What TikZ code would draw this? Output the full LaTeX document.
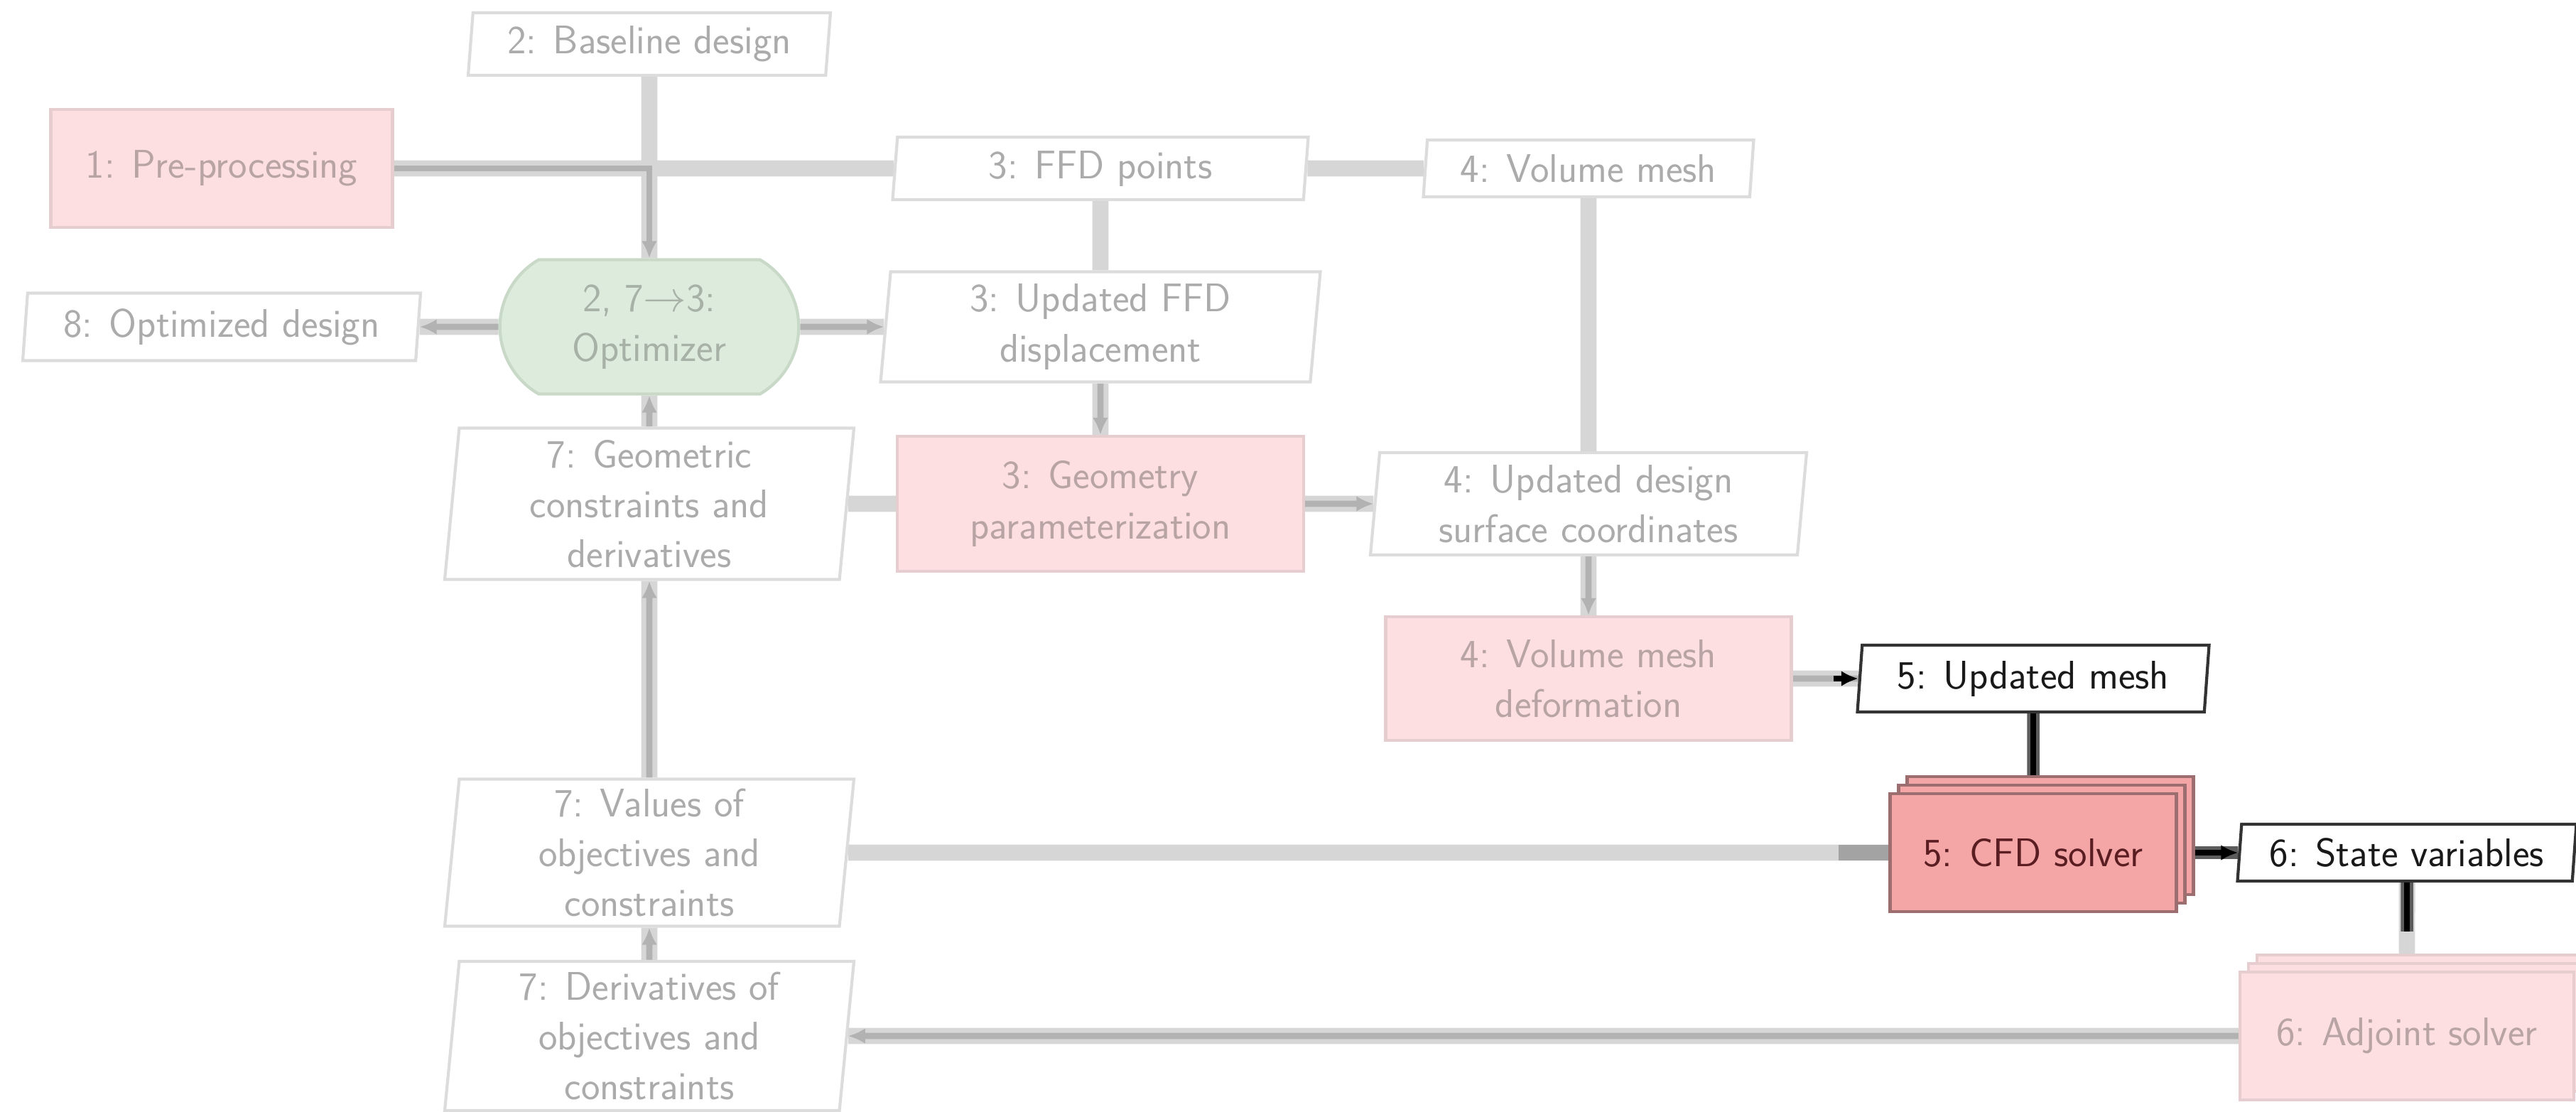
\documentclass[tikz,border=0pt]{standalone}
\usepackage{fontspec}
\usetikzlibrary{shapes.geometric,shapes.misc,arrows.meta,shadows,backgrounds,calc}

% palette
\definecolor{lineF}{HTML}{D6D6D6}
\definecolor{procF}{HTML}{B2B2B2}
\definecolor{lineA}{HTML}{5C5C5C}
\definecolor{txtF}{HTML}{ABABAB}
\definecolor{paraF}{HTML}{DCDCDC}
\definecolor{pinkFill}{HTML}{FDDFE1}
\definecolor{pinkDraw}{HTML}{E6CDCF}
\definecolor{pinkTxt}{HTML}{B8A3A5}
\definecolor{greenFill}{HTML}{DDEBDC}
\definecolor{greenDraw}{HTML}{C9D9C8}
\definecolor{greenTxt}{HTML}{A7B1A6}
\definecolor{cfdFill}{HTML}{F4A6A7}
\definecolor{cfdDraw}{HTML}{9C6E70}
\definecolor{cfdTxt}{HTML}{5A1E22}

\tikzset{
  para/.style={trapezium, trapezium left angle=84, trapezium right angle=96,
    trapezium stretches body=true, align=center, inner sep=2pt,
    line width=1.2pt, fill=white},
  paraF/.style={para, draw=paraF, text=txtF},
  paraA/.style={para, draw=black!80, text=black!90},
  procbox/.style={rectangle, align=center, line width=1.2pt,
    fill=pinkFill, draw=pinkDraw, text=pinkTxt},
  optbox/.style={rounded rectangle, rounded rectangle arc length=120,
    align=center, line width=1.2pt, fill=greenFill, draw=greenDraw, text=greenTxt},
  stackF/.style={procbox, double copy shadow={shadow xshift=0.12cm, shadow yshift=0.12cm,
    fill=pinkFill, draw=pinkDraw, line width=1.2pt}},
  stackA/.style={rectangle, align=center, line width=1.2pt, fill=cfdFill, draw=cfdDraw, text=cfdTxt,
    double copy shadow={shadow xshift=0.12cm, shadow yshift=0.12cm,
    fill=cfdFill, draw=cfdDraw, line width=1.2pt}},
  dataF/.style={draw=lineF, line width=6.5pt},
  dataA/.style={draw=lineA, line width=5pt},
  procLine/.style={draw=procF, line width=2.5pt},
  procArrow/.style={procLine, -{Latex[length=0.24cm,width=0.22cm]}},
  actLine/.style={draw=black, line width=2.2pt},
  actArrow/.style={actLine, -{Latex[length=0.24cm,width=0.22cm]}}
}

\begin{document}
\begin{tikzpicture}[font=\sffamily\fontsize{16}{20}\selectfont]
\useasboundingbox (0,0) rectangle (36.26,-15.64);

% column 0
\node[procbox, minimum width=4.81cm, minimum height=1.66cm] (pre) at (3.12,-2.37) {1: Pre-processing};
\node[paraF, minimum width=5.60cm, minimum height=0.95cm] (optd) at (3.12,-4.60) {8: Optimized design};

% column 1 (optimizer)
\node[paraF, minimum width=5.10cm, minimum height=0.88cm] (base) at (9.14,-0.62) {2: Baseline design};
\node[optbox, minimum width=4.44cm, minimum height=1.89cm] (opt) at (9.14,-4.60) {2, 7$\to$3:\\Optimizer};
\node[paraF, minimum width=5.76cm, minimum height=2.13cm] (gcon) at (9.14,-7.09) {7: Geometric\\constraints and\\derivatives};
\node[paraF, minimum width=5.76cm, minimum height=2.07cm] (vals) at (9.14,-12.00) {7: Values of\\objectives and\\constraints};
\node[paraF, minimum width=5.76cm, minimum height=2.10cm] (deriv) at (9.14,-14.58) {7: Derivatives of\\objectives and\\constraints};

% column 2 (geometry)
\node[paraF, minimum width=5.85cm, minimum height=0.88cm] (ffd) at (15.49,-2.37) {3: FFD points};
\node[paraF, minimum width=6.19cm, minimum height=1.55cm] (uffd) at (15.49,-4.60) {3: Updated FFD\\displacement};
\node[procbox, minimum width=5.72cm, minimum height=1.90cm] (geo) at (15.49,-7.09) {3: Geometry\\parameterization};

% column 3 (mesh)
\node[paraF, minimum width=4.65cm, minimum height=0.80cm] (vmesh) at (22.36,-2.37) {4: Volume mesh};
\node[paraF, minimum width=6.14cm, minimum height=1.44cm] (usurf) at (22.36,-7.09) {4: Updated design\\surface coordinates};
\node[procbox, minimum width=5.71cm, minimum height=1.74cm] (vmd) at (22.36,-9.55) {4: Volume mesh\\deformation};

% column 4 (flow solver)
\node[paraA, minimum width=4.95cm, minimum height=0.94cm] (umesh) at (28.62,-9.55) {5: Updated mesh};
\node[stackA, minimum width=4.03cm, minimum height=1.66cm] (cfd) at (28.62,-12.00) {5: CFD solver};

% column 5 (adjoint)
\node[paraA, minimum width=4.77cm, minimum height=0.80cm] (state) at (33.88,-12.00) {6: State variables};
\node[stackF, minimum width=4.70cm, minimum height=1.80cm] (adj) at (33.88,-14.58) {6: Adjoint solver};

\begin{pgfonlayer}{background}
  % data connections
  \draw[dataF] (pre.east) -- (ffd.west);
  \draw[dataF] (ffd.east) -- (vmesh.west);
  \draw[dataF] (base.south) -- (opt.north);
  \draw[dataF] (opt.west) -- (optd.east);
  \draw[dataF] (opt.east) -- (uffd.west);
  \draw[dataF] (ffd.south) -- (uffd.north);
  \draw[dataF] (uffd.south) -- (geo.north);
  \draw[dataF] (vmesh.south) -- (usurf.north);
  \draw[dataF] (usurf.south) -- (vmd.north);
  \draw[dataF] (gcon.east) -- (geo.west);
  \draw[dataF] (geo.east) -- (usurf.west);
  \draw[dataF] (vmd.east) -- (umesh.west);
  \draw[dataF] (vals.east) -- (cfd.west);
  \draw[dataF, draw=black!36] ($(cfd.west)+(-0.7,0)$) -- (cfd.west);
  \draw[dataF] (deriv.east) -- (adj.west);
  \draw[dataF] (opt.south) -- (gcon.north);
  \draw[dataF] (gcon.south) -- (vals.north);
  \draw[dataF] (vals.south) -- (deriv.north);
  \draw[dataA] (umesh.south) -- (cfd.north);
  \draw[dataA] (cfd.east) -- (state.west);
  \draw[dataF] (state.south) -- (adj.north);
  \draw[dataA] (state.south) -- ($(adj.north)+(0,0.55)$);

  % process flow
  \draw[procArrow] (pre.east) -| (opt.north);
  \draw[procArrow] (opt.west) -- (optd.east);
  \draw[procArrow] (opt.east) -- (uffd.west);
  \draw[procArrow] (uffd.south) -- (geo.north);
  \draw[procArrow] (geo.east) -- (usurf.west);
  \draw[procArrow] (usurf.south) -- (vmd.north);
  \draw[procLine] (vmd.east) -- (umesh.west);
  \draw[actArrow] ($(umesh.west)+(-0.35,0)$) -- (umesh.west);
  \draw[actLine] (umesh.south) -- (cfd.north);
  \draw[actArrow] (cfd.east) -- (state.west);
  \draw[actLine] (state.south) -- ($(adj.north)+(0,0.55)$);
  \draw[procArrow] (adj.west) -- (deriv.east);
  \draw[procArrow] (deriv.north) -- (vals.south);
  \draw[procArrow] (vals.north) -- (gcon.south);
  \draw[procArrow] (gcon.north) -- (opt.south);
\end{pgfonlayer}
\end{tikzpicture}
\end{document}
